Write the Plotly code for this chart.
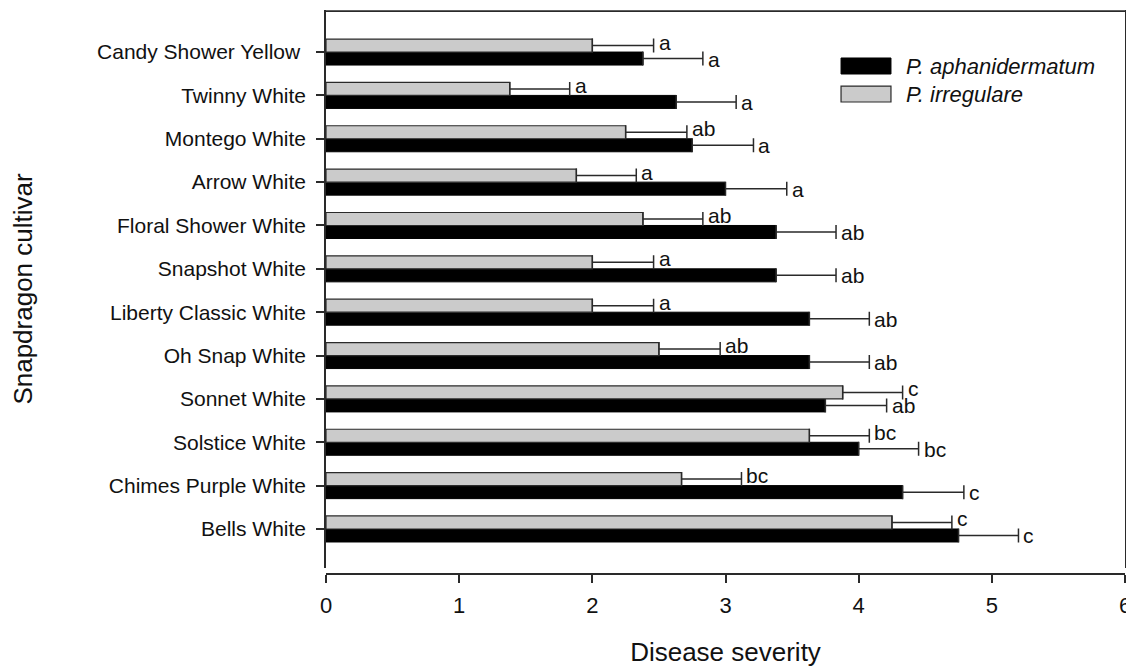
import plotly.graph_objects as go

# Data (listed top to bottom as in the chart)
cultivars = ["Candy Shower Yellow\u00a0", "Twinny White", "Montego White", "Arrow White",
             "Floral Shower White", "Snapshot White", "Liberty Classic White", "Oh Snap White",
             "Sonnet White", "Solstice White", "Chimes Purple White", "Bells White"]
aphan_mean = [2.38, 2.63, 2.75, 3.00, 3.38, 3.38, 3.63, 3.63, 3.75, 4.00, 4.33, 4.75]
aphan_err = [0.45, 0.45, 0.46, 0.46, 0.45, 0.45, 0.45, 0.45, 0.46, 0.45, 0.46, 0.45]
aphan_letters = ["a", "a", "a", "a", "ab", "ab", "ab", "ab", "ab", "bc", "c", "c"]
irreg_mean = [2.00, 1.38, 2.25, 1.88, 2.38, 2.00, 2.00, 2.50, 3.88, 3.63, 2.67, 4.25]
irreg_err = [0.46, 0.45, 0.46, 0.45, 0.45, 0.46, 0.46, 0.46, 0.45, 0.45, 0.45, 0.45]
irreg_letters = ["a", "a", "ab", "a", "ab", "a", "a", "ab", "c", "bc", "bc", "c"]
series_names = ["P. aphanidermatum", "P. irregulare"]
x_ticks = [0, 1, 2, 3, 4, 5, 6]

FONT = "Liberation Sans, Arial, sans-serif"
LINE = "#2a2a2a"
GRAY = "#cbcbcb"

fig = go.Figure()
fig.add_trace(go.Bar(
    y=cultivars, x=aphan_mean, orientation="h", name=series_names[0],
    marker=dict(color="black", line=dict(color="black", width=1)),
    error_x=dict(type="data", array=aphan_err, arrayminus=[0] * len(aphan_err),
                 symmetric=False, color=LINE, thickness=1.5, width=7),
    showlegend=False,
))
fig.add_trace(go.Bar(
    y=cultivars, x=irreg_mean, orientation="h", name=series_names[1],
    marker=dict(color=GRAY, line=dict(color=LINE, width=1.2)),
    error_x=dict(type="data", array=irreg_err, arrayminus=[0] * len(irreg_err),
                 symmetric=False, color=LINE, thickness=1.5, width=7),
    showlegend=False,
))

annotations = []
for c, m, e, t in zip(cultivars, aphan_mean, aphan_err, aphan_letters):
    annotations.append(dict(x=m + e, y=c, xref="x", yref="y", text=t, showarrow=False,
                            xanchor="left", yanchor="middle", xshift=3, yshift=-7,
                            font=dict(family=FONT, size=21, color="#111")))
for c, m, e, t in zip(cultivars, irreg_mean, irreg_err, irreg_letters):
    annotations.append(dict(x=m + e, y=c, xref="x", yref="y", text=t, showarrow=False,
                            xanchor="left", yanchor="middle", xshift=3, yshift=10,
                            font=dict(family=FONT, size=21, color="#111")))

# Frame top line + manual legend (swatches + italic labels)
shapes = [
    dict(type="line", xref="x domain", yref="y domain", x0=0, x1=1, y0=0.998, y1=0.998,
         line=dict(color=LINE, width=1.8), layer="above"),
    dict(type="rect", xref="paper", yref="paper", x0=0.6446, x1=0.7071, y0=0.8865, y1=0.9149,
         fillcolor="black", line=dict(color="black", width=1)),
    dict(type="rect", xref="paper", yref="paper", x0=0.6446, x1=0.7071, y0=0.8369, y1=0.8652,
         fillcolor=GRAY, line=dict(color=LINE, width=1.2)),
]
annotations.append(dict(x=0.7234, y=0.9007, xref="paper", yref="paper", text="<i>" + series_names[0] + "</i>",
                        showarrow=False, xanchor="left", yanchor="middle",
                        font=dict(family=FONT, size=22, color="#111")))
annotations.append(dict(x=0.7234, y=0.8510, xref="paper", yref="paper", text="<i>" + series_names[1] + "</i>",
                        showarrow=False, xanchor="left", yanchor="middle",
                        font=dict(family=FONT, size=22, color="#111")))

fig.update_layout(
    width=1126, height=659,
    margin=dict(l=318, r=9, t=2, b=93, pad=0, autoexpand=False),
    plot_bgcolor="white", paper_bgcolor="white",
    barmode="group", bargap=0.4, bargroupgap=0,
    font=dict(family=FONT, size=22, color="#111"),
    annotations=annotations, shapes=shapes,
    xaxis=dict(range=[0, 6], tickvals=x_ticks, ticktext=[str(v) for v in x_ticks],
               anchor="free", position=0, showline=True, linecolor=LINE, linewidth=1.5,
               ticks="outside", ticklen=8, tickwidth=1.5, tickcolor=LINE,
               showgrid=False, zeroline=False, ticklabelstandoff=4, automargin=False,
               title=dict(text="Disease severity", font=dict(size=26), standoff=26),
               tickfont=dict(size=22)),
    yaxis=dict(type="category", categoryorder="array", categoryarray=cultivars[::-1],
               range=[-0.9, 11.97], domain=[6 / 564, 1],
               showline=True, linecolor=LINE, linewidth=1.5, mirror=True,
               ticks="outside", ticklen=8, tickwidth=1.5, tickcolor=LINE,
               showgrid=False, zeroline=False, ticklabelstandoff=6, automargin=False,
               title=dict(text="Snapdragon cultivar", font=dict(size=26), standoff=59),
               tickfont=dict(size=21)),
)

fig.write_html("out.html")
